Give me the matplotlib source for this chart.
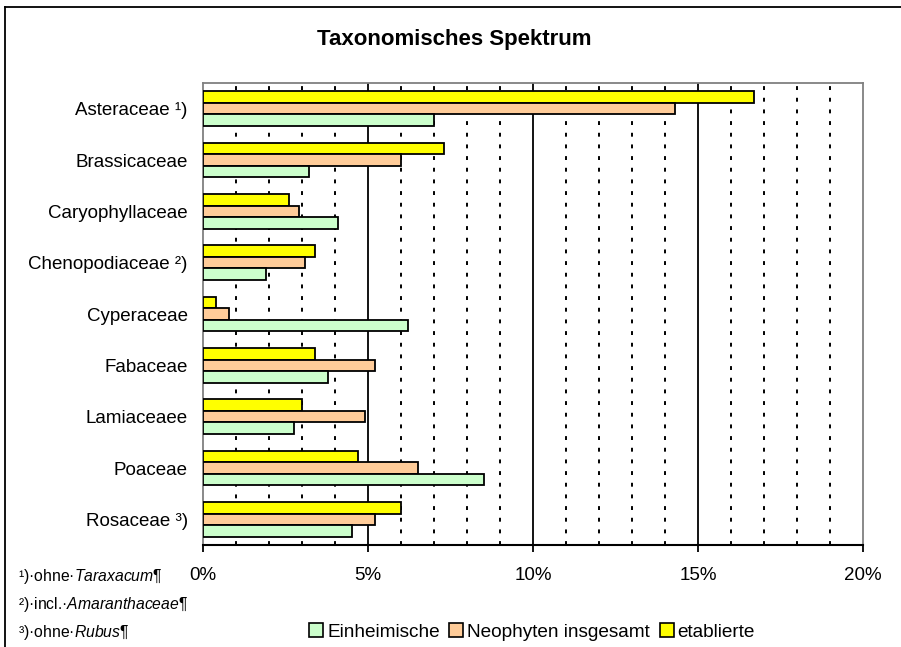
import matplotlib
matplotlib.use("Agg")
import matplotlib.pyplot as plt
import numpy as np
from matplotlib.patches import Patch
from matplotlib.lines import Line2D

plt.rcParams['font.family'] = ['Liberation Sans', 'DejaVu Sans']
plt.rcParams['mathtext.fontset'] = 'custom'
plt.rcParams['mathtext.rm'] = 'Liberation Sans'
plt.rcParams['mathtext.it'] = 'Liberation Sans:italic'

categories = ["Asteraceae ¹)", "Brassicaceae", "Caryophyllaceae", "Chenopodiaceae ²)",
              "Cyperaceae", "Fabaceae", "Lamiaceaee", "Poaceae", "Rosaceae ³)"]
einheimische = [7.0, 3.2, 4.1, 1.9, 6.2, 3.8, 2.75, 8.5, 4.5]
neophyten = [14.3, 6.0, 2.9, 3.1, 0.8, 5.2, 4.9, 6.5, 5.2]
etablierte = [16.7, 7.3, 2.6, 3.4, 0.4, 3.4, 3.0, 4.7, 6.0]
series_names = ["Einheimische", "Neophyten insgesamt", "etablierte"]
colors = ["#CCFFCC", "#FFCC99", "#FFFF00"]
xticks = [0, 5, 10, 15, 20]
xticklabels = ["0%", "5%", "10%", "15%", "20%"]
footnotes = ["¹)·ohne·$\\mathit{Taraxacum}$¶",
             "²)·incl.·$\\mathit{Amaranthaceae}$¶",
             "³)·ohne·$\\mathit{Rubus}$¶"]

fig = plt.figure(figsize=(9.01, 6.47), dpi=100)
ax = fig.add_axes([203/901, 1-545/647, (863-203)/901, (545-83)/647])

n = len(categories)
y = np.arange(n)
h = 0.227
ax.barh(y - h, etablierte, height=h, color=colors[2], edgecolor='black', linewidth=1.3, zorder=3)
ax.barh(y, neophyten, height=h, color=colors[1], edgecolor='black', linewidth=1.3, zorder=3)
ax.barh(y + h, einheimische, height=h, color=colors[0], edgecolor='black', linewidth=1.3, zorder=3)

ax.set_ylim(n - 0.5, -0.5)
ax.set_xlim(0, 20)
ax.set_yticks(y)
ax.set_yticklabels(categories, fontsize=13.5)
ax.tick_params(axis='y', length=0, pad=11)
ax.set_xticks(xticks)
ax.set_xticklabels(xticklabels, fontsize=13.5)
ax.tick_params(axis='x', direction='out', length=5, width=1.3, pad=11)

for v in range(1, 20):
    if v % 5 == 0:
        ax.axvline(v, color='black', linewidth=1.3, zorder=1)
    else:
        ax.axvline(v, color='black', linewidth=1.4, linestyle=(0, (2, 4)), zorder=1)

for s in ['top', 'right', 'left']:
    ax.spines[s].set_color('#808080')
    ax.spines[s].set_linewidth(1.3)
ax.spines['bottom'].set_color('black')
ax.spines['bottom'].set_linewidth(1.5)

fig.text(454/901, 1-40/647, "Taxonomisches Spektrum", fontsize=16, fontweight='bold',
         ha='center', va='center')

for i, t in enumerate(footnotes):
    fig.text(18/901, 1-(576 + 28*i)/647, t, fontsize=11.3, ha='left', va='center')

handles = [Patch(facecolor=colors[i], edgecolor='black', linewidth=1.2) for i in range(3)]
fig.legend(handles, series_names, loc='center', bbox_to_anchor=(532/901, 1-632/647),
           ncol=3, frameon=False, fontsize=13.7, handlelength=0.75, handleheight=0.75,
           handletextpad=0.2, columnspacing=0.5)

# outer frame (left and top)
fig.add_artist(Line2D([5/901, 5/901], [0, 1-7/647], transform=fig.transFigure, color='black', linewidth=1.3))
fig.add_artist(Line2D([5/901, 1], [1-7/647, 1-7/647], transform=fig.transFigure, color='black', linewidth=1.3))

fig.savefig("out.png", dpi=100)
